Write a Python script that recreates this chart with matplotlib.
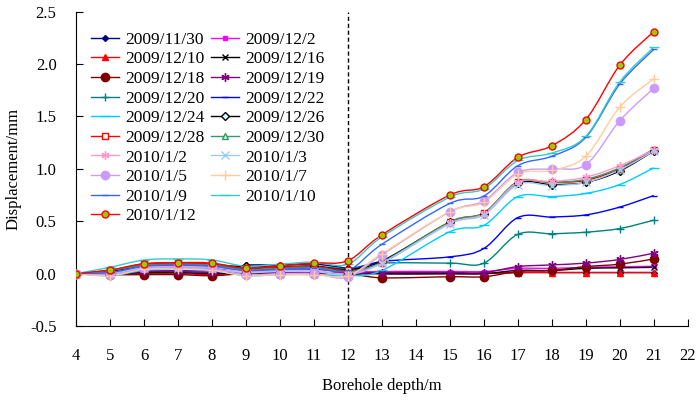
import numpy as np
import matplotlib
matplotlib.use("Agg")
import matplotlib.pyplot as plt
from matplotlib.path import Path
from matplotlib.patches import PathPatch
from matplotlib.lines import Line2D
from matplotlib.ticker import FormatStrFormatter, MultipleLocator

plt.rcParams['font.family'] = ['Liberation Serif', 'DejaVu Serif']

# глубины скважины (на 14 м замеров нет)
depth = [4, 5, 6, 7, 8, 9, 10, 11, 12, 13, 15, 16, 17, 18, 19, 20, 21]

d1130 = [0, 0.01, 0.03, 0.03, 0.03, 0.08, 0.08, 0.09, 0.05, 0.0, 0.0, 0.0, 0.01, 0.01, 0.01, 0.01, 0.01]
d1202 = [0, 0.0, 0.02, 0.02, 0.01, 0.01, 0.01, 0.01, 0.01, 0.02, 0.02, 0.02, 0.05, 0.05, 0.06, 0.065, 0.07]
d1210 = [0, 0.0, 0.0, 0.0, -0.01, 0.0, 0.0, 0.0, 0.0, 0.0, 0.0, 0.0, 0.01, 0.01, 0.01, 0.01, 0.01]
d1216 = [0, 0.0, 0.01, 0.01, 0.0, 0.01, 0.01, 0.01, 0.0, 0.0, 0.0, 0.0, 0.03, 0.03, 0.05, 0.055, 0.06]
d1218 = [0, -0.01, -0.01, -0.01, -0.02, 0.0, 0.0, 0.0, 0.0, -0.04, -0.03, -0.03, 0.02, 0.03, 0.067, 0.09, 0.14]
d1219 = [0, 0.0, 0.02, 0.02, 0.01, 0.01, 0.01, 0.01, 0.0, 0.01, 0.01, 0.01, 0.067, 0.083, 0.10, 0.135, 0.195]
d1220 = [0, 0.03, 0.09, 0.09, 0.09, 0.06, 0.07, 0.07, 0.05, 0.10, 0.10, 0.10, 0.375, 0.38, 0.395, 0.43, 0.51]
d1222 = [0, 0.02, 0.06, 0.06, 0.05, 0.03, 0.04, 0.04, 0.03, 0.115, 0.16, 0.24, 0.535, 0.54, 0.56, 0.635, 0.745]
d1224 = [0, -0.02, 0.03, 0.04, 0.03, -0.02, -0.01, -0.01, -0.02, 0.03, 0.40, 0.46, 0.735, 0.735, 0.765, 0.85, 1.01]
d1226 = [0, 0.02, 0.07, 0.08, 0.07, 0.07, 0.06, 0.07, 0.04, 0.12, 0.49, 0.57, 0.86, 0.85, 0.87, 0.98, 1.17]
d1228 = [0, 0.03, 0.09, 0.10, 0.09, 0.05, 0.06, 0.07, 0.03, 0.10, 0.49, 0.58, 0.87, 0.87, 0.89, 1.00, 1.18]
d1230 = [0, 0.03, 0.08, 0.09, 0.08, 0.04, 0.05, 0.06, 0.02, 0.11, 0.495, 0.58, 0.88, 0.87, 0.90, 1.01, 1.19]
d0102 = [0, 0.01, 0.06, 0.07, 0.06, 0.02, 0.03, 0.03, 0.0, 0.10, 0.48, 0.57, 0.87, 0.88, 0.92, 1.03, 1.18]
d0103 = [0, 0.0, 0.05, 0.05, 0.04, 0.01, 0.02, 0.02, -0.01, 0.10, 0.475, 0.56, 0.85, 0.84, 0.87, 0.99, 1.17]
d0105 = [0, -0.01, 0.05, 0.06, 0.05, -0.01, 0.0, 0.0, -0.035, 0.18, 0.59, 0.695, 0.965, 1.00, 1.04, 1.46, 1.77]
d0107 = [0, -0.02, 0.04, 0.04, 0.03, -0.02, -0.01, -0.01, -0.02, 0.19, 0.59, 0.68, 0.95, 0.985, 1.12, 1.59, 1.86]
d0109 = [0, 0.01, 0.07, 0.08, 0.07, 0.03, 0.04, 0.05, 0.03, 0.28, 0.67, 0.74, 1.03, 1.12, 1.30, 1.81, 2.14]
d0110 = [0, 0.06, 0.13, 0.14, 0.13, 0.07, 0.09, 0.11, 0.09, 0.35, 0.73, 0.81, 1.08, 1.15, 1.31, 1.83, 2.16]
d0112 = [0, 0.035, 0.095, 0.105, 0.10, 0.05, 0.076, 0.10, 0.124, 0.37, 0.75, 0.83, 1.11, 1.22, 1.47, 1.99, 2.31]

labels = ["2009/11/30", "2009/12/2", "2009/12/10", "2009/12/16", "2009/12/18",
          "2009/12/19", "2009/12/20", "2009/12/22", "2009/12/24", "2009/12/26",
          "2009/12/28", "2009/12/30", "2010/1/2", "2010/1/3", "2010/1/5",
          "2010/1/7", "2010/1/9", "2010/1/10", "2010/1/12"]
series = [d1130, d1202, d1210, d1216, d1218, d1219, d1220, d1222, d1224, d1226,
          d1228, d1230, d0102, d0103, d0105, d0107, d0109, d0110, d0112]

star = (6, 2, 0)
# (цвет линии, маркер, размер, заливка, обводка)
styles = [
    ("#000080", "D", 3, "#000080", "#000080"),
    ("#FF00FF", "s", 3.5, "#FF00FF", "#FF00FF"),
    ("#FF0000", "^", 4, "#FF0000", "#FF0000"),
    ("#000000", "x", 5, "#000000", "#000000"),
    ("#800000", "o", 6, "#800000", "#800000"),
    ("#800080", star, 6, "#800080", "#800080"),
    ("#008080", "+", 6, "#008080", "#008080"),
    ("#0000FF", "_", 5, "#0000FF", "#0000FF"),
    ("#00CCFF", "_", 7, "#00CCFF", "#00CCFF"),
    ("#000000", "D", 4, "#CCFFFF", "#000000"),
    ("#FF0000", "s", 4, "#FFFFFF", "#FF0000"),
    ("#339966", "^", 4.5, "#CCFFCC", "#339966"),
    ("#FF99CC", star, 6, "#FF99CC", "#FF99CC"),
    ("#99CCFF", "x", 6, "#99CCFF", "#99CCFF"),
    ("#CC99FF", "o", 6, "#CC99FF", "#CC99FF"),
    ("#FFCC99", "+", 7, "#FFCC99", "#FFCC99"),
    ("#3366FF", "_", 5, "#3366FF", "#3366FF"),
    ("#33CCCC", "_", 7, "#33CCCC", "#33CCCC"),
    ("#FF0000", "o", 5, "#99CC00", "#FF0000"),
]


def smooth_path(x, y):
    # сглаживание как в Excel: кубические Безье с натяжением 1/6
    pts = np.column_stack([x, y]).astype(float)
    n = len(pts)
    verts = [pts[0]]
    codes = [Path.MOVETO]
    for i in range(n - 1):
        p0 = pts[i - 1] if i > 0 else pts[i]
        p1 = pts[i]
        p2 = pts[i + 1]
        p3 = pts[i + 2] if i + 2 < n else pts[i + 1]
        c1 = p1 + (p2 - p0) / 6.0
        c2 = p2 - (p3 - p1) / 6.0
        verts += [c1, c2, p2]
        codes += [Path.CURVE4] * 3
    return Path(verts, codes)


fig = plt.figure(figsize=(7, 4), dpi=100)
ax = fig.add_axes([0.1086, 0.185, 0.874, 0.786])

handles = []
for vals, lab, (col, mk, ms, fc, ec) in zip(series, labels, styles):
    ax.add_patch(PathPatch(smooth_path(depth, vals), facecolor="none",
                           edgecolor=col, lw=1.0, zorder=2))
    ax.plot(depth, vals, ls="none", marker=mk, ms=ms, mfc=fc, mec=ec,
            mew=1.0, zorder=3)
    handles.append(Line2D([], [], color=col, lw=1.0, marker=mk, ms=ms,
                          mfc=fc, mec=ec, mew=1.0, label=lab))

ax.axvline(12, color="black", ls=(0, (3, 2)), lw=1.0, zorder=1)

ax.set_xlim(4, 22)
ax.set_ylim(-0.5, 2.5)
ax.xaxis.set_major_locator(MultipleLocator(1))
ax.yaxis.set_major_locator(MultipleLocator(0.5))
ax.yaxis.set_major_formatter(FormatStrFormatter("%.1f"))
ax.spines["top"].set_visible(False)
ax.spines["right"].set_visible(False)
ax.tick_params(axis="x", direction="in", length=5, pad=16, labelsize=12)
ax.tick_params(axis="y", direction="in", length=5, pad=14, labelsize=12)
ax.set_xlabel("Borehole depth/m", fontsize=12, labelpad=10)
ax.set_ylabel("Displacement/mm", fontsize=12, labelpad=6)

# в легенде порядок по строкам, а matplotlib заполняет по столбцам
leg_order = handles[0::2] + handles[1::2]
ax.legend(handles=leg_order, ncol=2, frameon=False, fontsize=12.5,
          loc="upper left", bbox_to_anchor=(0.005, 0.975),
          handlelength=1.6, handletextpad=0.35, columnspacing=0.4,
          labelspacing=0.2, borderaxespad=0.3)

fig.savefig("out.png", dpi=100)
